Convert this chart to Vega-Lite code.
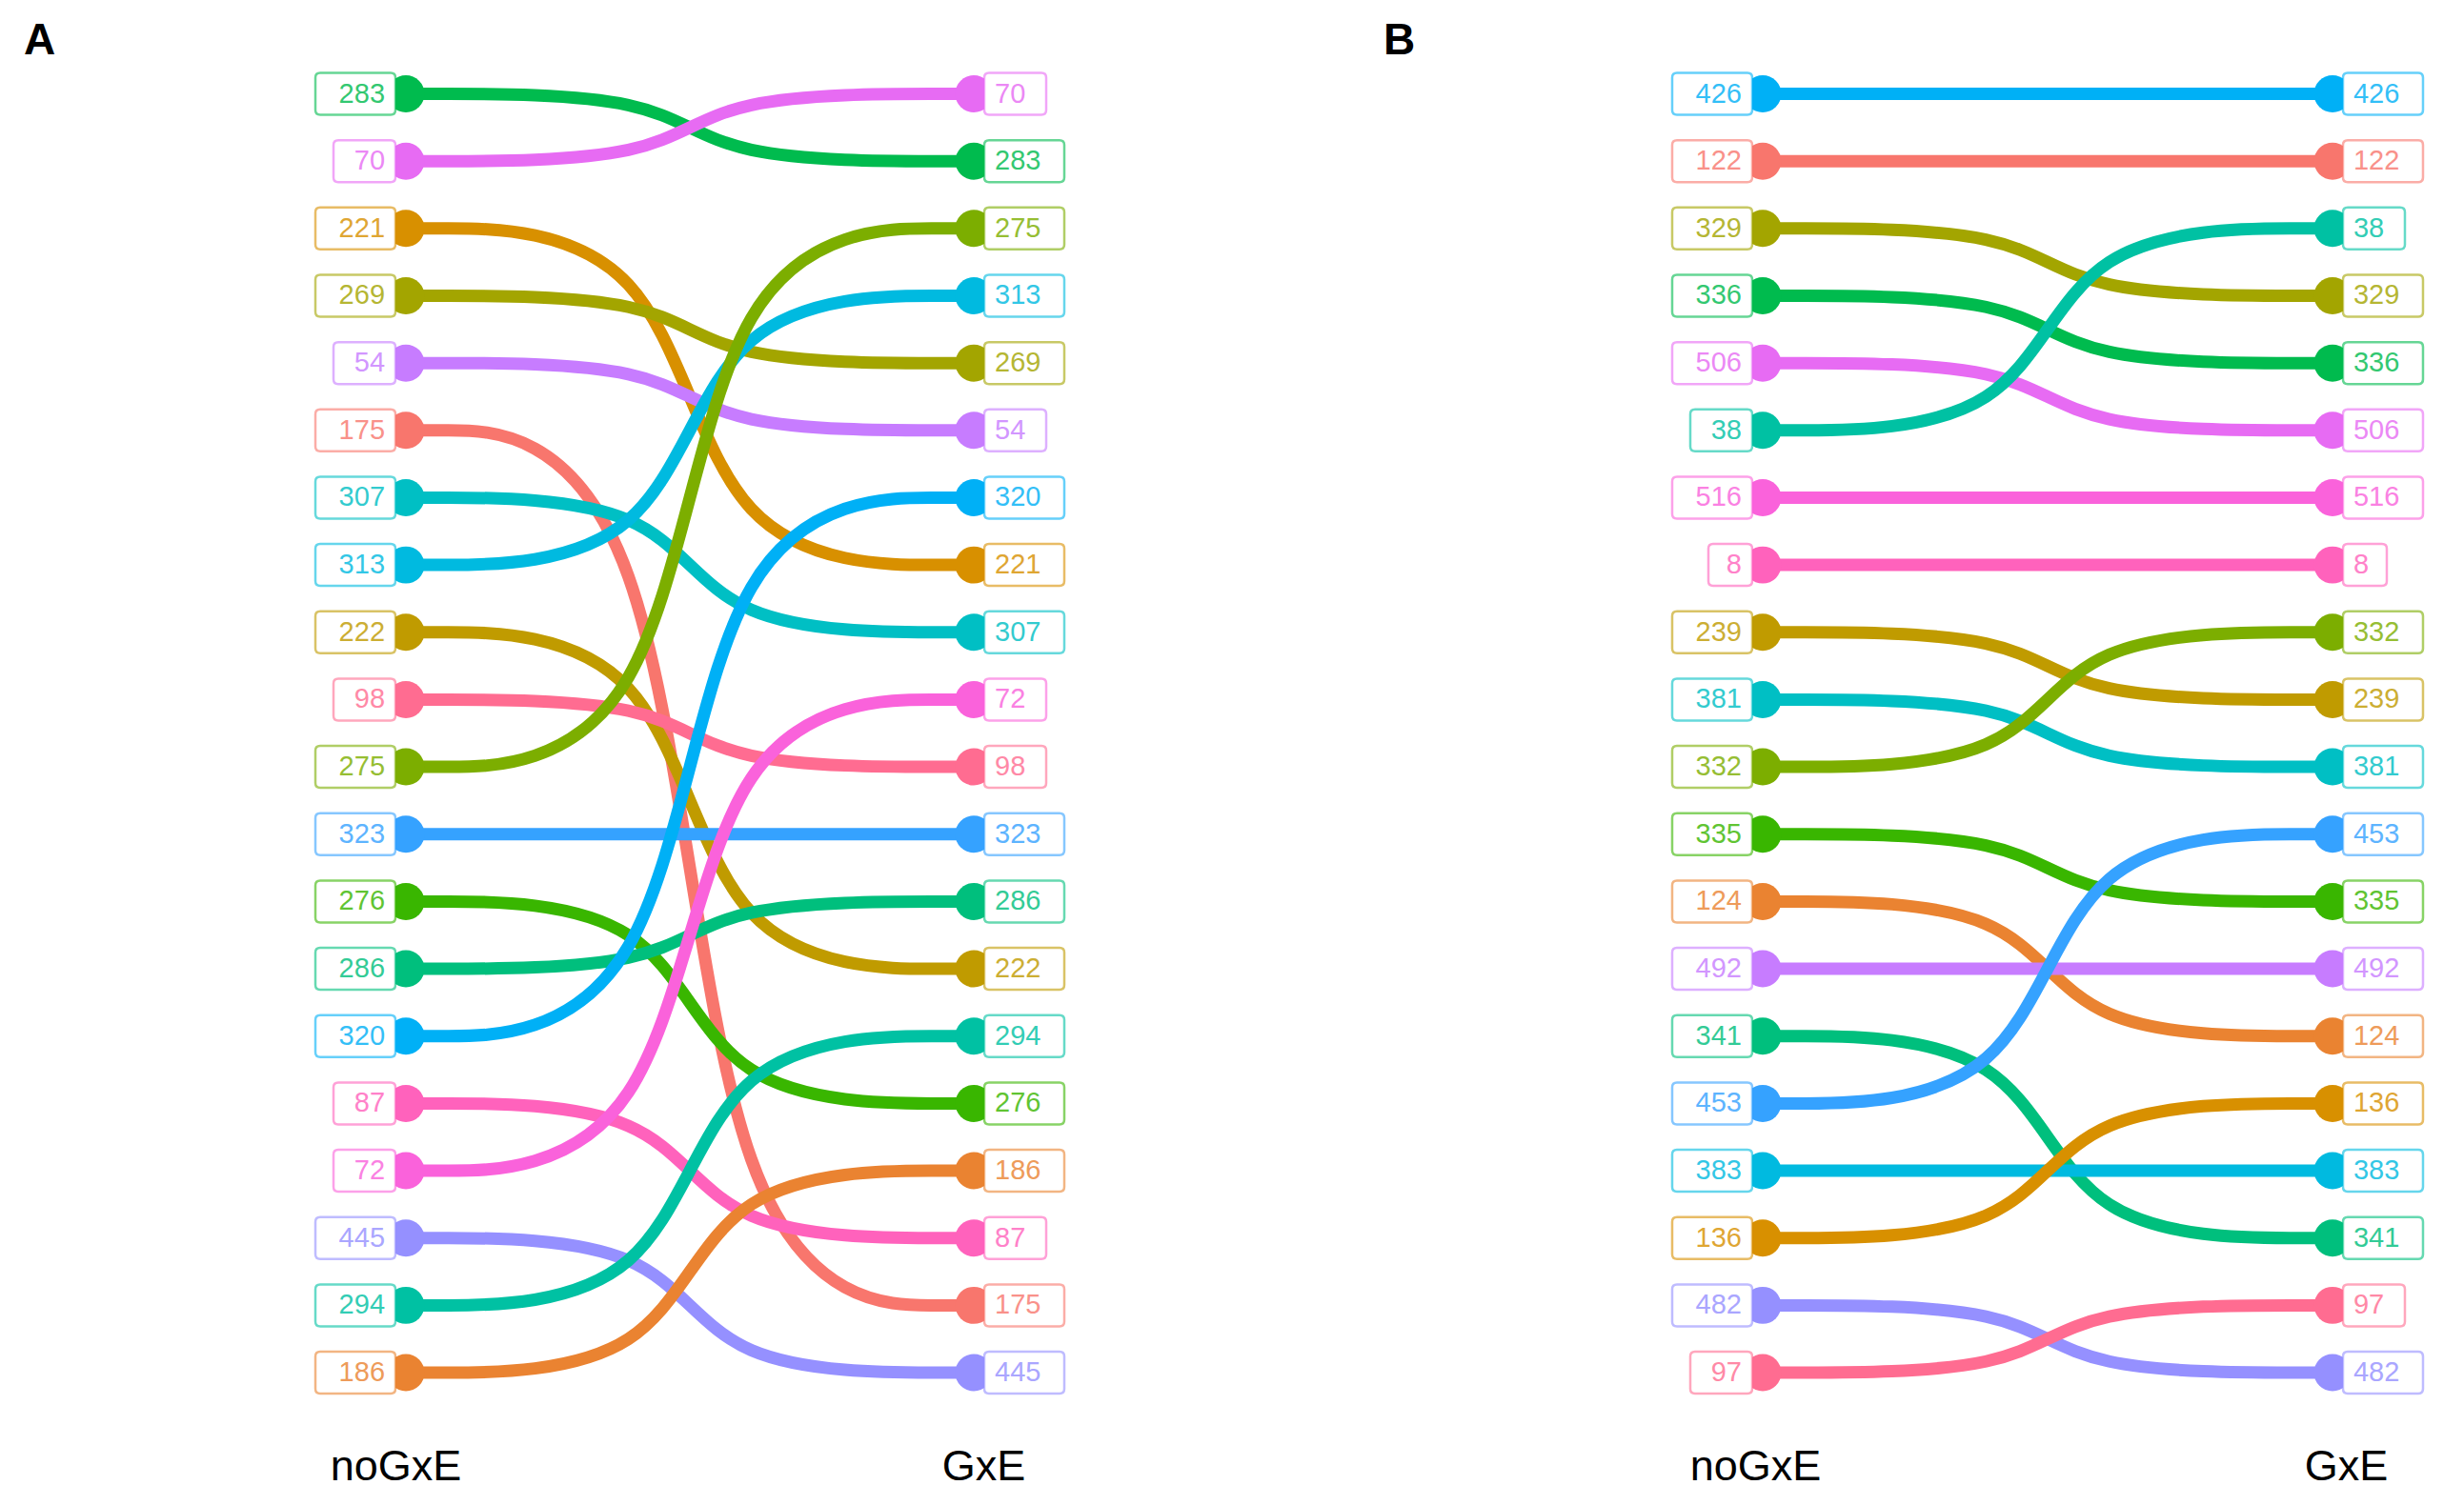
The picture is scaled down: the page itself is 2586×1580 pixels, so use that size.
{
  "$schema": "https://vega.github.io/schema/vega-lite/v6.json",
  "background": "white",
  "padding": {"top": 20, "left": 0, "right": 0, "bottom": 0},
  "spacing": 0,
  "bounds": "flush",
  "config": {"view": {"stroke": null}},
  "datasets": {
    "A": [
      {"id":"283","stage":0,"rank":1},{"id":"283","stage":0.45,"rank":1},{"id":"283","stage":0.55,"rank":2},{"id":"283","stage":1,"rank":2},
      {"id":"70","stage":0,"rank":2},{"id":"70","stage":0.45,"rank":2},{"id":"70","stage":0.55,"rank":1},{"id":"70","stage":1,"rank":1},
      {"id":"221","stage":0,"rank":3},{"id":"221","stage":0.45,"rank":3},{"id":"221","stage":0.55,"rank":8},{"id":"221","stage":1,"rank":8},
      {"id":"269","stage":0,"rank":4},{"id":"269","stage":0.45,"rank":4},{"id":"269","stage":0.55,"rank":5},{"id":"269","stage":1,"rank":5},
      {"id":"54","stage":0,"rank":5},{"id":"54","stage":0.45,"rank":5},{"id":"54","stage":0.55,"rank":6},{"id":"54","stage":1,"rank":6},
      {"id":"175","stage":0,"rank":6},{"id":"175","stage":0.45,"rank":6},{"id":"175","stage":0.55,"rank":19},{"id":"175","stage":1,"rank":19},
      {"id":"307","stage":0,"rank":7},{"id":"307","stage":0.45,"rank":7},{"id":"307","stage":0.55,"rank":9},{"id":"307","stage":1,"rank":9},
      {"id":"313","stage":0,"rank":8},{"id":"313","stage":0.45,"rank":8},{"id":"313","stage":0.55,"rank":4},{"id":"313","stage":1,"rank":4},
      {"id":"222","stage":0,"rank":9},{"id":"222","stage":0.45,"rank":9},{"id":"222","stage":0.55,"rank":14},{"id":"222","stage":1,"rank":14},
      {"id":"98","stage":0,"rank":10},{"id":"98","stage":0.45,"rank":10},{"id":"98","stage":0.55,"rank":11},{"id":"98","stage":1,"rank":11},
      {"id":"275","stage":0,"rank":11},{"id":"275","stage":0.45,"rank":11},{"id":"275","stage":0.55,"rank":3},{"id":"275","stage":1,"rank":3},
      {"id":"323","stage":0,"rank":12},{"id":"323","stage":0.45,"rank":12},{"id":"323","stage":0.55,"rank":12},{"id":"323","stage":1,"rank":12},
      {"id":"276","stage":0,"rank":13},{"id":"276","stage":0.45,"rank":13},{"id":"276","stage":0.55,"rank":16},{"id":"276","stage":1,"rank":16},
      {"id":"286","stage":0,"rank":14},{"id":"286","stage":0.45,"rank":14},{"id":"286","stage":0.55,"rank":13},{"id":"286","stage":1,"rank":13},
      {"id":"320","stage":0,"rank":15},{"id":"320","stage":0.45,"rank":15},{"id":"320","stage":0.55,"rank":7},{"id":"320","stage":1,"rank":7},
      {"id":"87","stage":0,"rank":16},{"id":"87","stage":0.45,"rank":16},{"id":"87","stage":0.55,"rank":18},{"id":"87","stage":1,"rank":18},
      {"id":"72","stage":0,"rank":17},{"id":"72","stage":0.45,"rank":17},{"id":"72","stage":0.55,"rank":10},{"id":"72","stage":1,"rank":10},
      {"id":"445","stage":0,"rank":18},{"id":"445","stage":0.45,"rank":18},{"id":"445","stage":0.55,"rank":20},{"id":"445","stage":1,"rank":20},
      {"id":"294","stage":0,"rank":19},{"id":"294","stage":0.45,"rank":19},{"id":"294","stage":0.55,"rank":15},{"id":"294","stage":1,"rank":15},
      {"id":"186","stage":0,"rank":20},{"id":"186","stage":0.45,"rank":20},{"id":"186","stage":0.55,"rank":17},{"id":"186","stage":1,"rank":17}
    ],
    "B": [
      {"id":"426","stage":0,"rank":1},{"id":"426","stage":0.45,"rank":1},{"id":"426","stage":0.55,"rank":1},{"id":"426","stage":1,"rank":1},
      {"id":"122","stage":0,"rank":2},{"id":"122","stage":0.45,"rank":2},{"id":"122","stage":0.55,"rank":2},{"id":"122","stage":1,"rank":2},
      {"id":"329","stage":0,"rank":3},{"id":"329","stage":0.45,"rank":3},{"id":"329","stage":0.55,"rank":4},{"id":"329","stage":1,"rank":4},
      {"id":"336","stage":0,"rank":4},{"id":"336","stage":0.45,"rank":4},{"id":"336","stage":0.55,"rank":5},{"id":"336","stage":1,"rank":5},
      {"id":"506","stage":0,"rank":5},{"id":"506","stage":0.45,"rank":5},{"id":"506","stage":0.55,"rank":6},{"id":"506","stage":1,"rank":6},
      {"id":"38","stage":0,"rank":6},{"id":"38","stage":0.45,"rank":6},{"id":"38","stage":0.55,"rank":3},{"id":"38","stage":1,"rank":3},
      {"id":"516","stage":0,"rank":7},{"id":"516","stage":0.45,"rank":7},{"id":"516","stage":0.55,"rank":7},{"id":"516","stage":1,"rank":7},
      {"id":"8","stage":0,"rank":8},{"id":"8","stage":0.45,"rank":8},{"id":"8","stage":0.55,"rank":8},{"id":"8","stage":1,"rank":8},
      {"id":"239","stage":0,"rank":9},{"id":"239","stage":0.45,"rank":9},{"id":"239","stage":0.55,"rank":10},{"id":"239","stage":1,"rank":10},
      {"id":"381","stage":0,"rank":10},{"id":"381","stage":0.45,"rank":10},{"id":"381","stage":0.55,"rank":11},{"id":"381","stage":1,"rank":11},
      {"id":"332","stage":0,"rank":11},{"id":"332","stage":0.45,"rank":11},{"id":"332","stage":0.55,"rank":9},{"id":"332","stage":1,"rank":9},
      {"id":"335","stage":0,"rank":12},{"id":"335","stage":0.45,"rank":12},{"id":"335","stage":0.55,"rank":13},{"id":"335","stage":1,"rank":13},
      {"id":"124","stage":0,"rank":13},{"id":"124","stage":0.45,"rank":13},{"id":"124","stage":0.55,"rank":15},{"id":"124","stage":1,"rank":15},
      {"id":"492","stage":0,"rank":14},{"id":"492","stage":0.45,"rank":14},{"id":"492","stage":0.55,"rank":14},{"id":"492","stage":1,"rank":14},
      {"id":"341","stage":0,"rank":15},{"id":"341","stage":0.45,"rank":15},{"id":"341","stage":0.55,"rank":18},{"id":"341","stage":1,"rank":18},
      {"id":"453","stage":0,"rank":16},{"id":"453","stage":0.45,"rank":16},{"id":"453","stage":0.55,"rank":12},{"id":"453","stage":1,"rank":12},
      {"id":"383","stage":0,"rank":17},{"id":"383","stage":0.45,"rank":17},{"id":"383","stage":0.55,"rank":17},{"id":"383","stage":1,"rank":17},
      {"id":"136","stage":0,"rank":18},{"id":"136","stage":0.45,"rank":18},{"id":"136","stage":0.55,"rank":16},{"id":"136","stage":1,"rank":16},
      {"id":"482","stage":0,"rank":19},{"id":"482","stage":0.45,"rank":19},{"id":"482","stage":0.55,"rank":20},{"id":"482","stage":1,"rank":20},
      {"id":"97","stage":0,"rank":20},{"id":"97","stage":0.45,"rank":20},{"id":"97","stage":0.55,"rank":19},{"id":"97","stage":1,"rank":19}
    ]
  },
  "resolve": {"scale": {"color": "independent", "stroke": "independent", "x": "independent", "y": "independent"}},
  "hconcat": [
    {
      "width": 1293,
      "height": 1436,
      "title": {"text": "A", "anchor": "start", "frame": "group", "dx": 25, "fontSize": 46, "fontWeight": "bold", "font": "Liberation Sans", "color": "#000000", "offset": 0},
      "data": {"name": "A"},
      "encoding": {
        "x": {"field": "stage", "type": "quantitative", "scale": {"domain": [-0.7148, 1.4547], "nice": false, "zero": false},
              "axis": {"values": [0, 1], "labelExpr": "datum.value == 0 ? 'noGxE' : 'GxE'", "domain": false, "ticks": false, "tickSize": 0, "grid": false, "title": null, "labelFontSize": 45, "labelFont": "Liberation Sans", "labelColor": "#000000", "labelPadding": 14, "labelFlush": false, "labelOverlap": false,
                       "labelOffset": {"condition": {"test": "datum.value == 0", "value": -11}, "value": 10}}},
        "y": {"field": "rank", "type": "quantitative", "scale": {"domain": [0.5542, 20.8769], "reverse": true, "nice": false, "zero": false}, "axis": null}
      },
      "layer": [
        {
          "mark": {"type": "line", "interpolate": "basis", "strokeWidth": 13, "strokeCap": "butt"},
          "encoding": {
            "color": {"field": "id", "type": "nominal", "legend": null,
              "scale": {"domain": ["175","186","221","222","269","275","276","283","286","294","307","313","320","323","445","54","70","72","87","98"],
                        "range": ["#F8766D","#EA8331","#D89000","#C09B00","#A3A500","#7CAE00","#39B600","#00BB4E","#00BF7D","#00C1A3","#00BFC4","#00BAE0","#00B0F6","#35A2FF","#9590FF","#C77CFF","#E76BF3","#FA62DB","#FF62BC","#FF6C91"]}},
            "detail": {"field": "id"},
            "order": {"field": "stage", "type": "quantitative"}
          }
        },
        {
          "transform": [{"filter": "datum.stage == 0 || datum.stage == 1"}],
          "mark": {"type": "circle", "size": 1520, "opacity": 1},
          "encoding": {"color": {"field": "id", "type": "nominal", "legend": null}}
        },
        {
          "transform": [{"filter": "datum.stage == 0 || datum.stage == 1"}],
          "mark": {"type": "point", "filled": true, "fill": "white", "size": 4, "strokeWidth": 2.5, "opacity": 1, "strokeOpacity": 0.6},
          "encoding": {
            "stroke": {"field": "id", "type": "nominal", "legend": null,
              "scale": {"domain": ["175","186","221","222","269","275","276","283","286","294","307","313","320","323","445","54","70","72","87","98"],
                        "range": ["#F8766D","#EA8331","#D89000","#C09B00","#A3A500","#7CAE00","#39B600","#00BB4E","#00BF7D","#00C1A3","#00BFC4","#00BAE0","#00B0F6","#35A2FF","#9590FF","#C77CFF","#E76BF3","#FA62DB","#FF62BC","#FF6C91"]}},
            "shape": {
              "condition": [
                {"test": "datum.stage == 0 && length(datum.id) == 3", "value": "M-90,-22L-16,-22Q-11,-22,-11,-17L-11,17Q-11,22,-16,22L-90,22Q-95,22,-95,17L-95,-17Q-95,-22,-90,-22Z"},
                {"test": "datum.stage == 0 && length(datum.id) == 2", "value": "M-71,-22L-16,-22Q-11,-22,-11,-17L-11,17Q-11,22,-16,22L-71,22Q-76,22,-76,17L-76,-17Q-76,-22,-71,-22Z"},
                {"test": "datum.stage == 0", "value": "M-52,-22L-16,-22Q-11,-22,-11,-17L-11,17Q-11,22,-16,22L-52,22Q-57,22,-57,17L-57,-17Q-57,-22,-52,-22Z"},
                {"test": "length(datum.id) == 3", "value": "M16,-22L90,-22Q95,-22,95,-17L95,17Q95,22,90,22L16,22Q11,22,11,17L11,-17Q11,-22,16,-22Z"},
                {"test": "length(datum.id) == 2", "value": "M16,-22L71,-22Q76,-22,76,-17L76,17Q76,22,71,22L16,22Q11,22,11,17L11,-17Q11,-22,16,-22Z"}
              ],
              "value": "M16,-22L52,-22Q57,-22,57,-17L57,17Q57,22,52,22L16,22Q11,22,11,17L11,-17Q11,-22,16,-22Z"
            }
          }
        },
        {
          "transform": [{"filter": "datum.stage == 0"}],
          "mark": {"type": "text", "align": "right", "baseline": "middle", "dx": -22, "fontSize": 29, "font": "Liberation Sans", "opacity": 0.8},
          "encoding": {"text": {"field": "id"}, "color": {"field": "id", "type": "nominal", "legend": null}}
        },
        {
          "transform": [{"filter": "datum.stage == 1"}],
          "mark": {"type": "text", "align": "left", "baseline": "middle", "dx": 22, "fontSize": 29, "font": "Liberation Sans", "opacity": 0.8},
          "encoding": {"text": {"field": "id"}, "color": {"field": "id", "type": "nominal", "legend": null}}
        }
      ]
    },
    {
      "width": 1293,
      "height": 1436,
      "title": {"text": "B", "anchor": "start", "frame": "group", "dx": 159, "fontSize": 46, "fontWeight": "bold", "font": "Liberation Sans", "color": "#000000", "offset": 0},
      "data": {"name": "B"},
      "encoding": {
        "x": {"field": "stage", "type": "quantitative", "scale": {"domain": [-0.9314, 1.2308], "nice": false, "zero": false},
              "axis": {"values": [0, 1], "labelExpr": "datum.value == 0 ? 'noGxE' : 'GxE'", "domain": false, "ticks": false, "tickSize": 0, "grid": false, "title": null, "labelFontSize": 45, "labelFont": "Liberation Sans", "labelColor": "#000000", "labelPadding": 14, "labelFlush": false, "labelOverlap": false,
                       "labelOffset": {"condition": {"test": "datum.value == 0", "value": -8}, "value": 14}}},
        "y": {"field": "rank", "type": "quantitative", "scale": {"domain": [0.5542, 20.8769], "reverse": true, "nice": false, "zero": false}, "axis": null}
      },
      "layer": [
        {
          "mark": {"type": "line", "interpolate": "basis", "strokeWidth": 13, "strokeCap": "butt"},
          "encoding": {
            "color": {"field": "id", "type": "nominal", "legend": null,
              "scale": {"domain": ["122","124","136","239","329","332","335","336","341","38","381","383","426","453","482","492","506","516","8","97"],
                        "range": ["#F8766D","#EA8331","#D89000","#C09B00","#A3A500","#7CAE00","#39B600","#00BB4E","#00BF7D","#00C1A3","#00BFC4","#00BAE0","#00B0F6","#35A2FF","#9590FF","#C77CFF","#E76BF3","#FA62DB","#FF62BC","#FF6C91"]}},
            "detail": {"field": "id"},
            "order": {"field": "stage", "type": "quantitative"}
          }
        },
        {
          "transform": [{"filter": "datum.stage == 0 || datum.stage == 1"}],
          "mark": {"type": "circle", "size": 1520, "opacity": 1},
          "encoding": {"color": {"field": "id", "type": "nominal", "legend": null}}
        },
        {
          "transform": [{"filter": "datum.stage == 0 || datum.stage == 1"}],
          "mark": {"type": "point", "filled": true, "fill": "white", "size": 4, "strokeWidth": 2.5, "opacity": 1, "strokeOpacity": 0.6},
          "encoding": {
            "stroke": {"field": "id", "type": "nominal", "legend": null,
              "scale": {"domain": ["122","124","136","239","329","332","335","336","341","38","381","383","426","453","482","492","506","516","8","97"],
                        "range": ["#F8766D","#EA8331","#D89000","#C09B00","#A3A500","#7CAE00","#39B600","#00BB4E","#00BF7D","#00C1A3","#00BFC4","#00BAE0","#00B0F6","#35A2FF","#9590FF","#C77CFF","#E76BF3","#FA62DB","#FF62BC","#FF6C91"]}},
            "shape": {
              "condition": [
                {"test": "datum.stage == 0 && length(datum.id) == 3", "value": "M-90,-22L-16,-22Q-11,-22,-11,-17L-11,17Q-11,22,-16,22L-90,22Q-95,22,-95,17L-95,-17Q-95,-22,-90,-22Z"},
                {"test": "datum.stage == 0 && length(datum.id) == 2", "value": "M-71,-22L-16,-22Q-11,-22,-11,-17L-11,17Q-11,22,-16,22L-71,22Q-76,22,-76,17L-76,-17Q-76,-22,-71,-22Z"},
                {"test": "datum.stage == 0", "value": "M-52,-22L-16,-22Q-11,-22,-11,-17L-11,17Q-11,22,-16,22L-52,22Q-57,22,-57,17L-57,-17Q-57,-22,-52,-22Z"},
                {"test": "length(datum.id) == 3", "value": "M16,-22L90,-22Q95,-22,95,-17L95,17Q95,22,90,22L16,22Q11,22,11,17L11,-17Q11,-22,16,-22Z"},
                {"test": "length(datum.id) == 2", "value": "M16,-22L71,-22Q76,-22,76,-17L76,17Q76,22,71,22L16,22Q11,22,11,17L11,-17Q11,-22,16,-22Z"}
              ],
              "value": "M16,-22L52,-22Q57,-22,57,-17L57,17Q57,22,52,22L16,22Q11,22,11,17L11,-17Q11,-22,16,-22Z"
            }
          }
        },
        {
          "transform": [{"filter": "datum.stage == 0"}],
          "mark": {"type": "text", "align": "right", "baseline": "middle", "dx": -22, "fontSize": 29, "font": "Liberation Sans", "opacity": 0.8},
          "encoding": {"text": {"field": "id"}, "color": {"field": "id", "type": "nominal", "legend": null}}
        },
        {
          "transform": [{"filter": "datum.stage == 1"}],
          "mark": {"type": "text", "align": "left", "baseline": "middle", "dx": 22, "fontSize": 29, "font": "Liberation Sans", "opacity": 0.8},
          "encoding": {"text": {"field": "id"}, "color": {"field": "id", "type": "nominal", "legend": null}}
        }
      ]
    }
  ]
}
